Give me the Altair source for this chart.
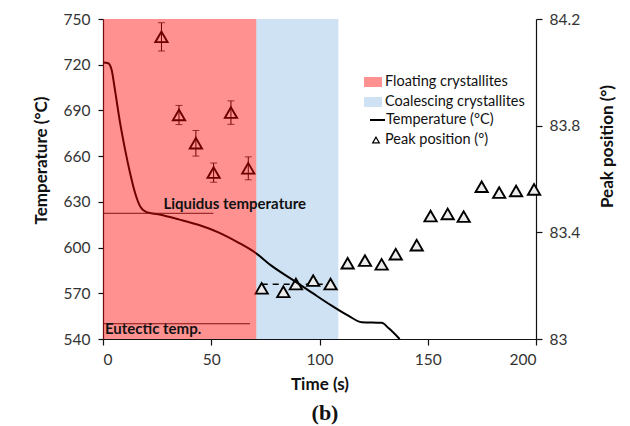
import altair as alt
import pandas as pd

# ---- data ----
time_s = [0, 2.4, 4.0, 5.5, 7.9, 10.2, 12.5, 14.8, 17.1, 20.1, 25.5, 35, 44, 53.3,
          62.5, 70.2, 77.9, 87.1, 96.3, 105.6, 113.3, 119.5, 128.7, 132, 137]
temp_c = [721.5, 721, 716.6, 703.6, 681.8, 664.3, 649, 636, 627.2, 623.3, 621.8, 618.5,
          615, 610, 603.3, 596.8, 588, 579.3, 570.6, 561.9, 555.3, 551, 550.6, 547, 540]

float_t = [27.0, 35.1, 42.9, 51.1, 59.1, 67.1]
float_peak = [84.133, 83.84, 83.734, 83.624, 83.849, 83.64]
float_err = [0.053, 0.036, 0.048, 0.036, 0.044, 0.043]

peak_t = [73.3, 83.3, 89.1, 97.1, 105.1, 113.0, 121.0, 128.7, 135.2, 144.9, 151.3,
          159.2, 166.6, 174.9, 183.0, 190.8, 199.1]
peak_v = [83.19, 83.177, 83.206, 83.219, 83.206, 83.284, 83.294, 83.28, 83.318, 83.352,
          83.461, 83.469, 83.459, 83.571, 83.549, 83.555, 83.561]

mean_line_t = [73.3, 105.1]
mean_line_v = [83.205]

region_names = ["Floating crystallites", "Coalescing crystallites"]
region_start = [0, 70.8]
region_end = [70.8, 108.7]

liquidus_t = [0, 51]
liquidus_T = [622.5]
eutectic_t = [0, 67.9]
eutectic_T = [550]

annot_text = ["Liquidus temperature", "Eutectic temp."]
annot_t = [27.9, 0.9]
annot_T = [628.3, 546.5]

legend_labels = ["Floating crystallites", "Coalescing crystallites",
                 "Temperature (°C)", "Peak position (°)"]

x_ticks = [0, 50, 100, 150, 200]
left_ticks = [540, 570, 600, 630, 660, 690, 720, 750]
right_ticks = [83, 83.4, 83.8, 84.2]

RED = "#FF9191"
BLUE = "#CFE2F3"
FONT = "Lato"

# ---- frames ----
temp_df = pd.DataFrame({"t": time_s, "T": temp_c})
float_df = pd.DataFrame({"t": float_t, "v": float_peak,
                         "lo": [v - e for v, e in zip(float_peak, float_err)],
                         "hi": [v + e for v, e in zip(float_peak, float_err)]})
peak_df = pd.DataFrame({"t": peak_t, "v": peak_v})
mean_df = pd.DataFrame({"t": [mean_line_t[0]], "t2": [mean_line_t[1]], "v": mean_line_v})
reg_df = pd.DataFrame({"name": region_names, "start": region_start, "end": region_end})
hl_df = pd.DataFrame({"t": [liquidus_t[0], eutectic_t[0]], "t2": [liquidus_t[1], eutectic_t[1]],
                      "T": [liquidus_T[0], eutectic_T[0]]})
annot_df = pd.DataFrame({"label": annot_text, "t": annot_t, "T": annot_T})
one = pd.DataFrame({"a": [0]})

x_scale = alt.Scale(domain=[0, 200], nice=False, zero=False)
yl_scale = alt.Scale(domain=[540, 750], nice=False, zero=False)
yr_scale = alt.Scale(domain=[83, 84.2], nice=False, zero=False)

x_axis = alt.Axis(title="Time (s)", values=x_ticks, tickSize=6, labelPadding=7,
                  titleY=45, titleBaseline="middle")
left_axis = alt.Axis(title="Temperature (°C)", orient="left", values=left_ticks,
                     tickSize=5, labelPadding=8, titleX=-62, titleY=141,
                     titleAngle=270, titleAlign="center", titleBaseline="middle")
right_axis = alt.Axis(title="Peak position (°)", orient="right", values=right_ticks,
                      format=".1~f", tickSize=6, labelPadding=7, titleX=71, titleY=127,
                      titleAngle=270, titleAlign="center", titleBaseline="middle")


def X(f):
    return alt.X(f"{f}:Q", scale=x_scale, axis=x_axis)


def YL(f):
    return alt.Y(f"{f}:Q", scale=yl_scale, axis=left_axis)


def YR(f):
    return alt.Y(f"{f}:Q", scale=yr_scale, axis=right_axis)


blue_rect = alt.Chart(reg_df).transform_filter(
    alt.datum.name == region_names[1]).mark_rect(color=BLUE).encode(
    x=X("start"), x2="end")

# right-axis group: peak positions
err_rules = alt.Chart(float_df).mark_rule(color="black", strokeWidth=1).encode(
    x=X("t"), y=YR("lo"), y2="hi")
err_caps_lo = alt.Chart(float_df).mark_tick(color="black", orient="horizontal",
                                            size=7, thickness=1).encode(x=X("t"), y=YR("lo"))
err_caps_hi = alt.Chart(float_df).mark_tick(color="black", orient="horizontal",
                                            size=7, thickness=1).encode(x=X("t"), y=YR("hi"))
float_pts = alt.Chart(float_df).mark_point(shape="triangle-up", size=150, filled=False,
                                           stroke="black", strokeWidth=1.9, opacity=1).encode(
    x=X("t"), y=YR("v"))
mean_rule = alt.Chart(mean_df).mark_rule(color="black", strokeWidth=1.5,
                                         strokeDash=[6, 5]).encode(
    x=X("t"), x2="t2", y=YR("v"))
peak_pts = alt.Chart(peak_df).mark_point(shape="triangle-up", size=150, filled=True,
                                         fill="#ececec", stroke="black", strokeWidth=1.9,
                                         opacity=1).encode(x=X("t"), y=YR("v"))
right_group = alt.layer(err_rules, err_caps_lo, err_caps_hi, float_pts, mean_rule, peak_pts)

# left-axis group: temperature
temp_line = alt.Chart(temp_df).mark_line(color="black", strokeWidth=2,
                                         interpolate="monotone").encode(x=X("t"), y=YL("T"))
hlines = alt.Chart(hl_df).mark_rule(color="#222222", strokeWidth=1).encode(
    x=X("t"), x2="t2", y=YL("T"))
red_rect = alt.Chart(reg_df).transform_filter(
    alt.datum.name == region_names[0]).mark_rect(color="#FF0000", opacity=0.43).encode(
    x=X("start"), x2="end")
annots = alt.Chart(annot_df).mark_text(align="left", baseline="middle", font=FONT,
                                       fontWeight="bold", fontSize=15,
                                       color="#111111").encode(
    x=X("t"), y=YL("T"), text="label:N")
left_group = alt.layer(temp_line, hlines, red_rect, annots)


# manual legend
def legend_text(label, px, py):
    return alt.Chart(one).mark_text(align="left", baseline="middle", font=FONT,
                                    fontSize=14.5, color="#111111", text=label).encode(
        x=alt.value(px), y=alt.value(py))


leg_red = alt.Chart(one).mark_rect(color=RED).encode(
    x=alt.value(261), x2=alt.value(279), y=alt.value(58), y2=alt.value(68))
leg_blue = alt.Chart(one).mark_rect(color=BLUE).encode(
    x=alt.value(261), x2=alt.value(279), y=alt.value(78), y2=alt.value(88))
leg_line = alt.Chart(one).mark_rule(color="black", strokeWidth=2).encode(
    x=alt.value(267), x2=alt.value(282), y=alt.value(101))
leg_tri = alt.Chart(one).mark_point(shape="triangle-up", size=45, filled=False,
                                    stroke="black", strokeWidth=1.2, opacity=1).encode(
    x=alt.value(273), y=alt.value(121))
legend = alt.layer(
    leg_red, leg_blue, leg_line, leg_tri,
    legend_text(legend_labels[0], 282, 63),
    legend_text(legend_labels[1], 282, 83),
    legend_text(legend_labels[2], 283, 101),
    legend_text(legend_labels[3], 282, 121),
)

panel_label = alt.Chart(one).mark_text(align="center", baseline="middle",
                                       font="Liberation Serif", fontWeight="bold",
                                       fontSize=22, color="#111111", text="(b)").encode(
    x=alt.value(222), y=alt.value(394))

chart = alt.layer(blue_rect, right_group, left_group, legend, panel_label).resolve_scale(
    y="independent"
).properties(
    width=433, height=320,
    padding={"left": 95, "top": 11, "right": 84, "bottom": 87},
    autosize=alt.AutoSizeParams(type="none"),
).configure_view(stroke=None).configure_axis(
    grid=False, labelFont=FONT, labelFontSize=15.5, labelColor="#333333",
    titleFont=FONT, titleFontSize=17, titleFontWeight="bold", titleColor="#111111",
    domainColor="#111111", tickColor="#111111", domainWidth=1.2, tickWidth=1.2,
)

chart.save("out.html", embed_options={"renderer": "svg", "actions": False})
